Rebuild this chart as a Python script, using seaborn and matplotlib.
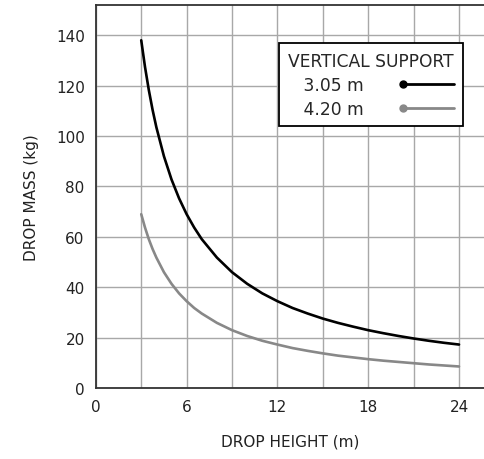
import matplotlib
matplotlib.use("Agg")
import matplotlib.pyplot as plt
import seaborn as sns
import pandas as pd
from matplotlib.lines import Line2D
from matplotlib.legend_handler import HandlerBase
from matplotlib.ticker import MultipleLocator

height = [3, 3.25, 3.5, 3.75, 4, 4.5, 5, 5.5, 6, 6.5, 7, 8, 9, 10, 11, 12, 13, 14, 15, 16, 17, 18, 19, 20, 21, 22, 23, 24]
mass_305 = [138, 127.4, 118.3, 110.4, 103.5, 92, 82.8, 75.3, 69, 63.7, 59.1, 51.8, 46, 41.4, 37.6, 34.5,
            31.8, 29.6, 27.6, 25.9, 24.4, 23, 21.8, 20.7, 19.7, 18.8, 18, 17.3]
mass_420 = [69, 63.7, 59.1, 55.2, 51.8, 46, 41.4, 37.6, 34.5, 31.8, 29.6, 25.9, 23, 20.7, 18.8, 17.3,
            15.9, 14.8, 13.8, 12.9, 12.2, 11.5, 10.9, 10.4, 9.9, 9.4, 9, 8.6]
series_labels = ["3.05 m", "4.20 m"]
legend_title = "VERTICAL SUPPORT"
colors = ["#000000", "#888888"]

df = pd.concat([
    pd.DataFrame({"h": height, "m": mass_305, "s": series_labels[0]}),
    pd.DataFrame({"h": height, "m": mass_420, "s": series_labels[1]}),
])

sns.set_style("white")
plt.rcParams["font.family"] = ["DejaVu Sans"]
FS = 11
LFS = 12.3

fig = plt.figure(figsize=(4.84, 4.60), dpi=100)
ax = fig.add_axes([0.198, 0.154, 0.802, 0.833])

sns.lineplot(data=df, x="h", y="m", hue="s", palette=colors, linewidth=1.9,
             ax=ax, legend=False, sort=True)

ax.set_xlim(0, 25.65)
ax.set_ylim(0, 152)
ax.xaxis.set_major_locator(MultipleLocator(6))
ax.xaxis.set_minor_locator(MultipleLocator(3))
ax.yaxis.set_major_locator(MultipleLocator(20))
ax.grid(True, which="both", axis="x", color="#a8a8a8", linewidth=1.0)
ax.grid(True, which="major", axis="y", color="#a8a8a8", linewidth=1.0)
ax.set_axisbelow(True)
ax.tick_params(axis="both", which="both", length=0, labelsize=FS, pad=8, colors="#222222")
for s in ["left", "bottom", "top"]:
    ax.spines[s].set_color("#333333")
    ax.spines[s].set_linewidth(1.3)
ax.spines["right"].set_visible(False)
ax.set_xlabel("DROP HEIGHT (m)", fontsize=FS, labelpad=14, color="#222222")
ax.set_ylabel("DROP MASS (kg)", fontsize=FS, labelpad=12, color="#222222")


class DotLineHandler(HandlerBase):
    def create_artists(self, legend, orig_handle, xdescent, ydescent, width, height, fontsize, trans):
        y = height / 2 - ydescent
        x0 = -xdescent
        c = orig_handle.get_color()
        ln = Line2D([x0, x0 + width], [y, y], color=c, linewidth=2.0, transform=trans)
        mk = Line2D([x0], [y], color=c, marker="o", markersize=5, linestyle="none", transform=trans)
        return [ln, mk]


handles = [Line2D([], [], color=c) for c in colors]
leg = ax.legend(handles, ["   " + s for s in series_labels], title=legend_title, loc="upper right",
                bbox_to_anchor=(0.946, 0.9), borderaxespad=0, markerfirst=False, frameon=True,
                fancybox=False, fontsize=LFS, title_fontsize=LFS, handlelength=3.0,
                handletextpad=2.3, labelspacing=0.35, borderpad=0.5,
                handler_map={Line2D: DotLineHandler()})
leg.get_frame().set_edgecolor("#000000")
leg.get_frame().set_linewidth(1.3)
leg.get_frame().set_alpha(1)

fig.savefig("out.png", dpi=100)
